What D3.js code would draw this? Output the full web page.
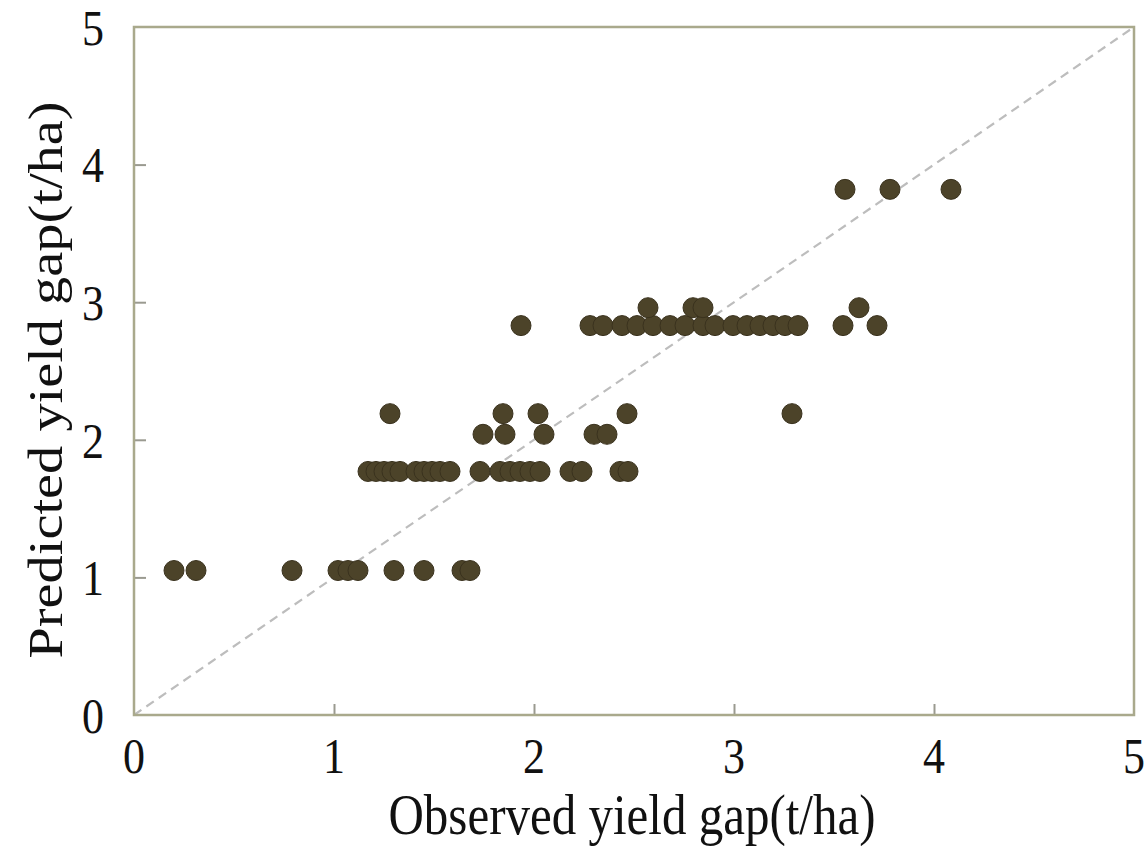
<!DOCTYPE html>
<html>
<head>
<meta charset="utf-8">
<script src="https://cdnjs.cloudflare.com/ajax/libs/d3/7.8.5/d3.min.js"></script>
<style>
  body { margin: 0; background: #fff; }
  svg text { font-family: "Liberation Serif", "DejaVu Serif", serif; fill: #111; }
</style>
</head>
<body>
<svg id="chart" width="1145" height="846"></svg>
<script>
// observed values grouped by the predicted level they sit on
const predictedLevels = [1.05, 1.77, 2.04, 2.19, 2.83, 2.96, 3.82];
const observedByLevel = [
  [0.2, 0.31, 0.79, 1.02, 1.07, 1.12, 1.30, 1.45, 1.64, 1.68],
  [1.17, 1.21, 1.25, 1.29, 1.33, 1.41, 1.45, 1.49, 1.53, 1.58, 1.73, 1.83, 1.88, 1.93, 1.98, 2.03, 2.18, 2.24, 2.43, 2.47],
  [1.745, 1.855, 2.05, 2.30, 2.365],
  [1.28, 1.845, 2.02, 2.465, 3.29],
  [1.935, 2.28, 2.345, 2.44, 2.515, 2.595, 2.68, 2.755, 2.845, 2.905, 2.995, 3.065, 3.13, 3.195, 3.255, 3.32, 3.545, 3.715],
  [2.57, 2.795, 2.845, 3.625],
  [3.555, 3.78, 4.085]
];
const xTicks = [0, 1, 2, 3, 4, 5];
const yTicks = [0, 1, 2, 3, 4, 5];

const points = [];
observedByLevel.forEach((row, i) => {
  row.forEach(o => points.push({ obs: o, pred: predictedLevels[i] }));
});

const svg = d3.select('#chart');
const margin = { left: 134, top: 27, right: 11, bottom: 131 };
const w = 1145 - margin.left - margin.right;
const h = 846 - margin.top - margin.bottom;
// the original figure's text is a little taller than wide
const stretch = 1.15;

const x = d3.scaleLinear().domain([0, 5]).range([0, w]);
const y = d3.scaleLinear().domain([0, 5]).range([h, 0]);

const g = svg.append('g')
  .attr('transform', `translate(${margin.left},${margin.top})`);

// 1:1 line
g.append('line')
  .attr('x1', x(0)).attr('y1', y(0))
  .attr('x2', x(5)).attr('y2', y(5))
  .attr('stroke', '#bdbdbd')
  .attr('stroke-width', 2.2)
  .attr('stroke-dasharray', '9,6');

// inward ticks
const xAxis = g.append('g')
  .attr('transform', `translate(0,${h})`)
  .call(d3.axisTop(x).tickValues(xTicks.slice(1, -1)).tickSize(11).tickFormat(''));
const yAxis = g.append('g')
  .call(d3.axisRight(y).tickValues(yTicks.slice(1, -1)).tickSize(12).tickFormat(''));
[xAxis, yAxis].forEach(a => {
  a.select('.domain').remove();
  a.selectAll('.tick line').attr('stroke', '#9a9a90').attr('stroke-width', 2);
});

// frame
g.append('rect')
  .attr('x', 0).attr('y', 0)
  .attr('width', w).attr('height', h)
  .attr('fill', 'none')
  .attr('stroke', '#a9a98c')
  .attr('stroke-width', 2.5);

// tick labels
g.selectAll('text.xlab')
  .data(xTicks)
  .enter()
  .append('text')
  .attr('class', 'xlab')
  .attr('transform', d => `translate(${x(d)},${h + 58}) scale(1,${stretch})`)
  .attr('text-anchor', 'middle')
  .attr('font-size', 44)
  .text(d => d);

g.selectAll('text.ylab')
  .data(yTicks)
  .enter()
  .append('text')
  .attr('class', 'ylab')
  .attr('transform', d => `translate(-30,${y(d)}) scale(1,${stretch})`)
  .attr('dy', '0.35em')
  .attr('text-anchor', 'end')
  .attr('font-size', 44)
  .text(d => d);

// points
g.selectAll('circle.pt')
  .data(points)
  .enter()
  .append('circle')
  .attr('class', 'pt')
  .attr('cx', d => x(d.obs))
  .attr('cy', d => y(d.pred))
  .attr('r', 10)
  .attr('fill', '#4c4329')
  .attr('stroke', '#3a321e')
  .attr('stroke-width', 1);

// axis titles
svg.append('text')
  .attr('transform', `translate(${margin.left + w / 2 - 2},834) scale(1,${stretch})`)
  .attr('text-anchor', 'middle')
  .attr('font-size', 49)
  .text('Observed yield gap(t/ha)');

svg.append('text')
  .attr('transform', `translate(62,380) scale(1,${stretch}) rotate(-90)`)
  .attr('text-anchor', 'middle')
  .attr('font-size', 49)
  .text('Predicted yield gap(t/ha)');
</script>
</body>
</html>
